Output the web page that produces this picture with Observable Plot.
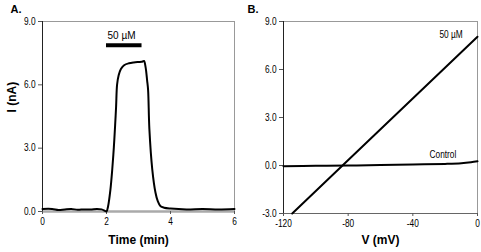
<!DOCTYPE html>
<html>
<head>
<meta charset="utf-8">
<script src="https://cdn.jsdelivr.net/npm/d3@7"></script>
<script src="https://cdn.jsdelivr.net/npm/@observablehq/plot@0.6"></script>
<style>
  html, body { margin: 0; padding: 0; background: #fff; }
  #wrap { display: flex; width: 481px; height: 252px; }
  #wrap svg { display: block; }
</style>
</head>
<body>
<div id="wrap"></div>
<script>
// ---------- Panel A data: current vs time ----------
const timeMin = [0, 0.3, 0.5, 0.7, 0.9, 1.1, 1.3, 1.5, 1.7, 1.85, 1.95, 2.0, 2.05, 2.12, 2.18, 2.23, 2.27, 2.30, 2.33, 2.38, 2.45, 2.55, 2.7, 2.85, 3.0, 3.1, 3.17, 3.22, 3.27, 3.30, 3.34, 3.43, 3.53, 3.6, 3.69, 3.8, 4.0, 4.5, 5.0, 5.5, 6.0];
const currentA = [0.12, 0.12, 0.07, 0.1, 0.12, 0.08, 0.1, 0.09, 0.12, 0.1, 0.03, 0.0, 0.25, 1.0, 2.0, 3.05, 4.1, 4.97, 6.0, 6.45, 6.75, 6.93, 7.02, 7.06, 7.08, 7.09, 7.13, 6.85, 6.2, 5.75, 3.9, 2.0, 0.9, 0.5, 0.25, 0.18, 0.14, 0.1, 0.12, 0.1, 0.12];
const xTicksA = [0, 2, 4, 6];
const yTicksA = [0, 3, 6, 9];
const appBar = {start: 2.0, end: 3.11, level: 7.87, label: "50 µM", labelX: 2.47, labelY: 8.33};

// ---------- Panel B data: I-V relations ----------
const vDrug = [-114.6, -83.5, 0];
const iDrug = [-3.0, 0.0, 8.05];
const vControl = [-120, -100, -80, -60, -40, -20, -10, -4, 0];
const iControl = [-0.04, -0.02, 0.0, 0.03, 0.06, 0.1, 0.14, 0.2, 0.26];
const xTicksB = [-120, -80, -40, 0];
const yTicksB = [-3, 0, 3, 6, 9];
const labelsB = [
  {text: "50 µM", v: -16.4, i: 8.2},
  {text: "Control", v: -21.4, i: 0.66}
];

const sans = "'Liberation Sans', Arial, sans-serif";
const hyphenFmt = (f) => (d) => f(d).replace("\u2212", "-");
const intFmt = hyphenFmt(d3.format("d"));
const oneFmt = hyphenFmt(d3.format(".1f"));

const traceA = timeMin.map((t, k) => ({t, i: currentA[k]}));
const drug = vDrug.map((v, k) => ({v, i: iDrug[k]}));
const ctrl = vControl.map((v, k) => ({v, i: iControl[k]}));

const plotA = Plot.plot({
  width: 240, height: 252,
  marginLeft: 42, marginRight: 6, marginTop: 21, marginBottom: 41,
  style: {fontFamily: sans, fontSize: "10px", color: "#000", background: "transparent", overflow: "visible"},
  x: {domain: [0, 6], ticks: xTicksA},
  y: {domain: [0, 9], ticks: yTicksA},
  marks: [
    Plot.frame({stroke: "#999", strokeWidth: 1}),
    Plot.ruleY([0], {stroke: "#aaa", strokeWidth: 2.5}),
    Plot.ruleX([0], {stroke: "#222", strokeWidth: 1}),
    Plot.axisX({ticks: xTicksA, tickSize: 3, tickPadding: 3, tickFormat: intFmt, label: null, stroke: "#555"}),
    Plot.axisY({ticks: yTicksA, tickSize: 4, tickPadding: 3, tickFormat: oneFmt, label: null, stroke: "#555"}),
    Plot.line(traceA, {x: "t", y: "i", stroke: "#000", strokeWidth: 2, curve: "catmull-rom"}),
    Plot.ruleY([appBar], {x1: "start", x2: "end", y: "level", stroke: "#000", strokeWidth: 4}),
    Plot.text([appBar], {x: "labelX", y: "labelY", text: "label", fontSize: 10, fill: "#000"}),
    Plot.text(["Time (min)"], {frameAnchor: "bottom", dy: 32, fontWeight: "bold", fontSize: 12, fill: "#000"}),
    Plot.text(["I (nA)"], {frameAnchor: "left", dx: -30, dy: -4, rotate: -90, fontWeight: "bold", fontSize: 12, fill: "#000"}),
    Plot.text(["A."], {frameAnchor: "top-left", dx: -32, dy: -12, lineAnchor: "middle", fontWeight: "bold", fontSize: 11, fill: "#000", textAnchor: "start"})
  ]
});

const plotB = Plot.plot({
  width: 241, height: 252,
  marginLeft: 43, marginRight: 4, marginTop: 21, marginBottom: 39,
  style: {fontFamily: sans, fontSize: "10px", color: "#000", background: "transparent", overflow: "visible"},
  x: {domain: [-120, 0], ticks: xTicksB},
  y: {domain: [-3, 9], ticks: yTicksB},
  marks: [
    Plot.frame({stroke: "#999", strokeWidth: 1}),
    Plot.ruleY([-3], {stroke: "#666", strokeWidth: 1}),
    Plot.ruleX([-120], {stroke: "#222", strokeWidth: 1}),
    Plot.axisX({ticks: xTicksB, tickSize: 3, tickPadding: 3, tickFormat: intFmt, label: null, stroke: "#555"}),
    Plot.axisY({ticks: yTicksB, tickSize: 4, tickPadding: 3, tickFormat: oneFmt, label: null, stroke: "#555"}),
    Plot.line(ctrl, {x: "v", y: "i", stroke: "#000", strokeWidth: 2, curve: "catmull-rom"}),
    Plot.line(drug, {x: "v", y: "i", stroke: "#000", strokeWidth: 2}),
    Plot.text(labelsB, {x: "v", y: "i", text: "text", fontSize: 10, fill: "#000"}),
    Plot.text(["V (mV)"], {frameAnchor: "bottom", dy: 30, fontWeight: "bold", fontSize: 12, fill: "#000"}),
    Plot.text(["B."], {frameAnchor: "top-left", dx: -36, dy: -12, lineAnchor: "middle", fontWeight: "bold", fontSize: 11, fill: "#000", textAnchor: "start"})
  ]
});

document.getElementById("wrap").append(plotA, plotB);

// Emulate the narrow (condensed) face used for tick labels and panel-B annotations.
const condensedB = new Set(["50 µM", "Control"]);
document.querySelectorAll("#wrap svg text").forEach((t) => {
  const inTick = t.closest('g[aria-label$="tick label"]');
  const inB = plotB.contains(t) && condensedB.has(t.textContent);
  if (inTick || inB) {
    const w = t.getComputedTextLength();
    if (w > 0) {
      t.setAttribute("textLength", (w * 0.83).toFixed(2));
      t.setAttribute("lengthAdjust", "spacingAndGlyphs");
    }
  }
});
</script>
</body>
</html>
